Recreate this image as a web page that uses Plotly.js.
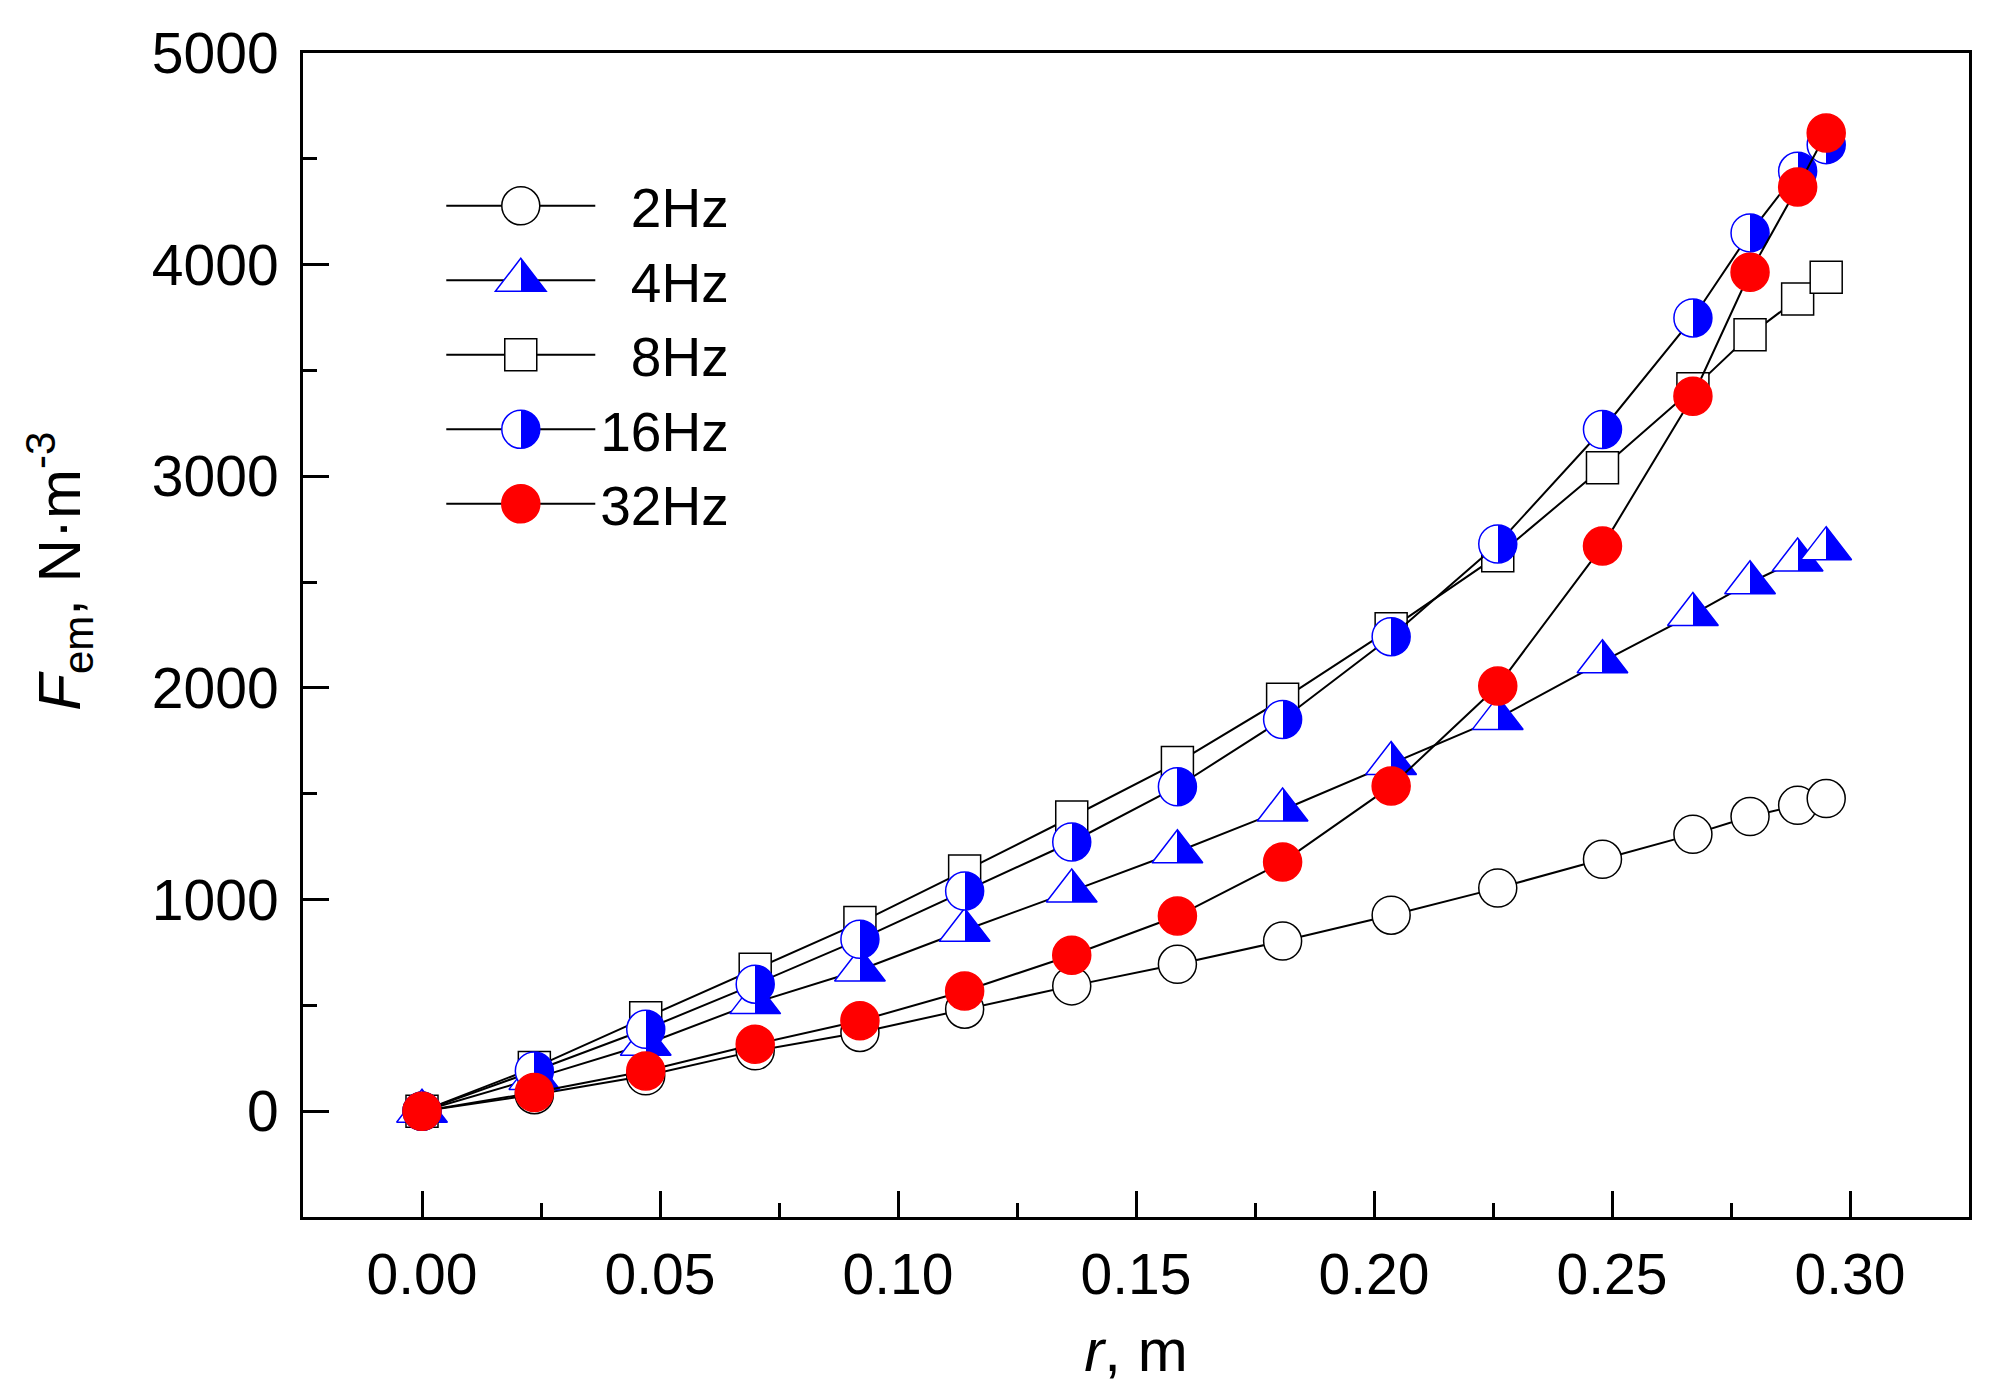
<!DOCTYPE html>
<html>
<head>
<meta charset="utf-8">
<script src="https://cdn.plot.ly/plotly-3.0.1.min.js"></script>
<style>html, body { margin: 0; padding: 0; background: #fff; }</style>
</head>
<body>
<div id="chart" style="width:2011px;height:1395px"></div>
<script>
// radius, m (same sampling for every frequency)
const radius = [0, 0.0236, 0.047, 0.070, 0.092, 0.114, 0.1365, 0.1587, 0.1808, 0.2036, 0.226, 0.248, 0.267, 0.279, 0.289, 0.295];

// electromagnetic force density, N/m^3
const f2Hz  = [0, 78, 167, 285, 372, 482, 592, 694, 804, 926, 1054, 1190, 1308, 1392, 1445, 1477];
const f4Hz  = [0, 155, 316, 513, 667, 855, 1040, 1226, 1423, 1643, 1856, 2124, 2347, 2497, 2604, 2658];
const f8Hz  = [0, 206, 442, 671, 891, 1135, 1390, 1647, 1946, 2280, 2625, 3040, 3413, 3669, 3838, 3940];
const f16Hz = [0, 190, 387, 600, 812, 1040, 1272, 1533, 1851, 2242, 2680, 3221, 3748, 4150, 4441, 4567];
const f32Hz = [0, 88, 190, 316, 427, 568, 737, 922, 1177, 1536, 2009, 2670, 3378, 3964, 4367, 4622];

const seriesNames = ['2Hz', '4Hz', '8Hz', '16Hz', '32Hz'];
const seriesValues = [f2Hz, f4Hz, f8Hz, f16Hz, f32Hz];

const BLUE = '#0000ff';
const RED = '#ff0000';

// marker style per series
const markerStyles = [
    { symbol: 'circle', size: 38, color: '#ffffff', line: { color: '#000000', width: 1.5 } },
    { symbol: 'triangle-up', size: 44, color: BLUE, gradient: { type: 'horizontal', color: '#ffffff' }, line: { color: BLUE, width: 1.5 } },
    { symbol: 'square', size: 32, color: '#ffffff', line: { color: '#000000', width: 1.5 } },
    { symbol: 'circle', size: 38, color: BLUE, gradient: { type: 'horizontal', color: '#ffffff' }, line: { color: BLUE, width: 1.5 } },
    { symbol: 'circle', size: 38, color: RED, line: { color: RED, width: 1.5 } },
];

// legend text is right aligned in the original, pad the short names
const padName = (name) => (name.length < 4 ? '\u00a0\u00a0' : '') + name;

const data = seriesNames.map((name, i) => ({
    x: radius,
    y: seriesValues[i],
    name: padName(name),
    type: 'scatter',
    mode: 'lines+markers',
    line: { color: '#000000', width: 2 },
    marker: markerStyles[i],
    cliponaxis: false,
}));

const axisCommon = {
    showgrid: false,
    zeroline: false,
    showline: true,
    linecolor: '#000000',
    linewidth: 3,
    mirror: true,
    ticks: 'inside',
    tickcolor: '#000000',
    tickwidth: 3,
    ticklen: 26,
    tickfont: { size: 57, color: '#000000' },
};

const layout = {
    width: 2011,
    height: 1395,
    margin: { l: 303, r: 42, t: 53, b: 178 },
    paper_bgcolor: '#ffffff',
    plot_bgcolor: '#ffffff',
    font: { family: '"Liberation Sans", Arial, sans-serif', color: '#000000' },
    showlegend: true,
    legend: {
        x: 0.083,
        y: 0.905,
        xanchor: 'left',
        yanchor: 'top',
        bgcolor: 'rgba(0,0,0,0)',
        font: { size: 55 },
        itemwidth: 149,
        tracegroupgap: 0,
    },
    xaxis: Object.assign({}, axisCommon, {
        range: [-0.025, 0.325],
        tick0: 0,
        dtick: 0.05,
        tickformat: '.2f',
        ticklabelstandoff: 6,
        minor: { dtick: 0.025, ticks: 'inside', ticklen: 14, tickwidth: 3, tickcolor: '#000000' },
        title: { text: '<i>r</i>, m', font: { size: 60 }, standoff: 24 },
    }),
    yaxis: Object.assign({}, axisCommon, {
        range: [-500, 5000],
        tick0: 0,
        dtick: 1000,
        ticklabelstandoff: 10,
        minor: { dtick: 500, ticks: 'inside', ticklen: 14, tickwidth: 3, tickcolor: '#000000' },
    }),
    annotations: [{
        xref: 'paper', yref: 'paper',
        x: -0.146, y: 0.555,
        xanchor: 'center', yanchor: 'middle',
        textangle: -90,
        showarrow: false,
        text: '<i>F</i><sub>em</sub>, N·m<sup>-3</sup>',
        font: { size: 60 },
    }],
};

Plotly.newPlot('chart', data, layout, { staticPlot: true }).then((gd) => {
    // half filled markers: turn the smooth gradient into a hard left/right split
    gd.querySelectorAll('linearGradient').forEach((g) => {
        g.setAttribute('x1', '0'); g.setAttribute('x2', '1');
        g.setAttribute('y1', '0'); g.setAttribute('y2', '0');
        while (g.firstChild) g.removeChild(g.firstChild);
        [[0, '#ffffff'], [0.5, '#ffffff'], [0.5, BLUE], [1, BLUE]].forEach(([off, col]) => {
            const s = document.createElementNS('http://www.w3.org/2000/svg', 'stop');
            s.setAttribute('offset', off);
            s.setAttribute('stop-color', col);
            g.appendChild(s);
        });
    });
    // legend caps marker size at 16px, scale them back up to the plotted size
    gd.querySelectorAll('.legend .traces').forEach((item, i) => {
        const k = markerStyles[i].size / 16;
        item.querySelectorAll('path.scatterpts').forEach((p) => {
            p.setAttribute('transform', (p.getAttribute('transform') || '') + ' scale(' + k + ')');
            p.style.vectorEffect = 'non-scaling-stroke';
        });
    });
});
</script>
</body>
</html>
